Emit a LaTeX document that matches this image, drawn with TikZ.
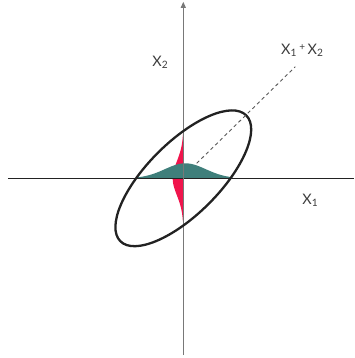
\documentclass[tikz,border=0pt]{standalone}
\usepackage{fontspec}
\setmainfont{Lato}
\usepackage{tikz}
\usetikzlibrary{arrows.meta,positioning,calc}
\definecolor{axiscolor}{RGB}{120,120,120}
\definecolor{ringcolor}{RGB}{34,34,34}
\definecolor{margxcolor}{RGB}{63,127,123}
\definecolor{margycolor}{RGB}{240,20,76}
\definecolor{labelcolor}{RGB}{60,60,60}

\begin{document}
\begin{tikzpicture}[x=1pt, y=1pt,
        axisline/.style={line width=1.1pt},
        ring/.style={draw=ringcolor, line width=2.3pt},
        sumline/.style={draw=gray!70!black, line width=0.9pt, dash pattern=on 3.5pt off 3pt},
        axlabel/.style={text=labelcolor, font=\fontsize{14.5}{16}\selectfont, inner sep=1pt}
    ]
        \useasboundingbox (-183.3,-179.7) rectangle (170.7,178.3);

        \coordinate (o) at (0,0);
        \coordinate (xl) at (-175.3,0);
        \coordinate (xr) at (170.7,0);
        \coordinate (yb) at (0,-176.7);
        \coordinate (yt) at (0,176.5);

        % marginals
        \fill[margycolor] (0,-43) -- plot[domain=-43:44, samples=80] ({-10.6*exp(-(\x*\x)/(2*17*17))}, \x) -- (0,44) -- cycle;
        \fill[margxcolor] (-47,0) -- plot[domain=-47:49, samples=80] (\x, {15*exp(-((\x-2)*(\x-2))/(2*20.5*20.5))}) -- (49,0) -- cycle;

        % axes
        \draw[axisline, draw=ringcolor] (xl) -- (xr);
        \draw[axisline, draw=axiscolor, -{Triangle[length=6pt, width=5pt]}] (yb) -- (yt);

        \draw[ring, rotate=45] (o) ellipse [x radius=89pt, y radius=36pt];

        \coordinate (dstart) at (13.4,15);
        \coordinate (dend) at (112,111.6);
        \draw[sumline] (dstart) -- (dend);

        \node[axlabel] (lblx) at (127,-22) {X\textsubscript{1}};
        \node[axlabel] (lbly) at (-23,116) {X\textsubscript{2}};
        \node[axlabel] (lblsum) at (119,128) {X\textsubscript{1}\,\raisebox{0.45ex}{\fontsize{10}{11}\selectfont +}\,X\textsubscript{2}};
    \end{tikzpicture}
\end{document}
